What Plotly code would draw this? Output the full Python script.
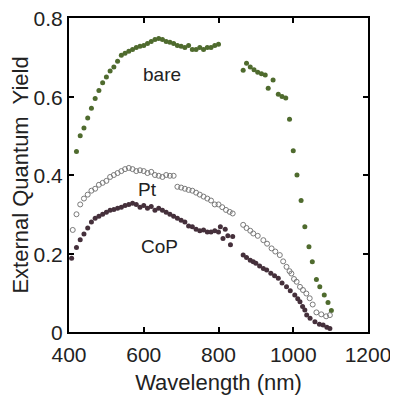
import plotly.graph_objects as go

# ---- data ----
bare_nm = [420, 430, 440, 450, 460, 470, 480, 490, 500, 510, 520, 530, 540, 550, 560, 570,
           580, 590, 600, 610, 620, 630, 640, 650, 660, 670, 680, 690, 700, 710, 720, 730,
           740, 750, 760, 770, 780, 790, 800,
           866, 875, 885, 895, 905, 915, 925, 933, 946, 960, 970, 980, 990,
           1000, 1010, 1021, 1031, 1042, 1051, 1062, 1071, 1083, 1093, 1102]
bare_val = [0.46, 0.50, 0.52, 0.545, 0.57, 0.595, 0.615, 0.635, 0.65, 0.665, 0.675, 0.69, 0.705, 0.71, 0.715, 0.72,
            0.725, 0.728, 0.73, 0.735, 0.74, 0.745, 0.748, 0.745, 0.74, 0.738, 0.735, 0.73, 0.728, 0.725, 0.73, 0.72,
            0.72, 0.725, 0.72, 0.725, 0.725, 0.73, 0.733,
            0.667, 0.685, 0.675, 0.668, 0.662, 0.658, 0.655, 0.621, 0.642, 0.606, 0.60, 0.596, 0.542,
            0.462, 0.40, 0.335, 0.268, 0.217, 0.179, 0.134, 0.115, 0.094, 0.075, 0.055]

pt_nm = [410, 420, 430, 440, 450, 460, 470, 480, 490, 500, 510, 520, 530, 540, 550, 560,
         570, 580, 590, 600, 610, 620, 630, 640, 650, 660, 670, 680,
         690, 700, 710, 720, 730, 740, 750, 760, 770, 780, 790, 800, 810, 820, 830, 838,
         866, 875, 885, 893, 905, 920, 930, 942, 952, 964, 973, 982, 990, 995,
         1002, 1009, 1018, 1026, 1035, 1044, 1052, 1062, 1075, 1088, 1098]
pt_val = [0.26, 0.30, 0.325, 0.34, 0.35, 0.36, 0.365, 0.375, 0.38, 0.385, 0.395, 0.40, 0.405, 0.41, 0.415, 0.418,
          0.415, 0.41, 0.412, 0.41, 0.405, 0.408, 0.40, 0.398, 0.395, 0.40, 0.398, 0.398,
          0.37, 0.368, 0.365, 0.362, 0.36, 0.355, 0.35, 0.345, 0.34, 0.335, 0.325, 0.325, 0.318, 0.311, 0.306, 0.302,
          0.273, 0.265, 0.258, 0.251, 0.245, 0.234, 0.225, 0.213, 0.205, 0.196, 0.18, 0.166, 0.155, 0.149,
          0.135, 0.128, 0.115, 0.107, 0.098, 0.086, 0.07, 0.05, 0.045, 0.04, 0.043]

cop_nm = [407, 420, 430, 440, 450, 460, 470, 480, 490, 500, 510, 520, 530, 540, 550, 560,
          570, 580, 590, 600, 610, 620, 630, 640, 650, 660, 670, 680, 690, 700, 710, 720,
          730, 740, 750, 760, 770, 780, 790, 800,
          805, 812, 818, 825, 832, 838,
          866, 875, 885, 893, 900, 910, 920, 929, 940, 950, 960, 970, 982, 992,
          1004, 1012, 1018, 1025, 1031, 1036, 1045, 1058, 1070, 1080, 1090, 1098]
cop_val = [0.188, 0.215, 0.235, 0.25, 0.265, 0.28, 0.29, 0.295, 0.30, 0.305, 0.31, 0.312, 0.315, 0.318, 0.322, 0.325,
           0.328, 0.325, 0.318, 0.322, 0.315, 0.32, 0.31, 0.315, 0.31, 0.305, 0.30, 0.295, 0.29, 0.285, 0.28, 0.27,
           0.268, 0.262, 0.258, 0.26, 0.255, 0.255, 0.258, 0.255,
           0.268, 0.238, 0.262, 0.245, 0.222, 0.243,
           0.196, 0.19, 0.183, 0.179, 0.175, 0.168, 0.162, 0.158, 0.15, 0.143, 0.137, 0.125, 0.115, 0.105,
           0.094, 0.085, 0.077, 0.065, 0.056, 0.043, 0.035, 0.026, 0.02, 0.018, 0.012, 0.009]

x_ticks = [400, 600, 800, 1000, 1200]
y_ticks = [0, 0.2, 0.4, 0.6, 0.8]
y_tick_text = ["0", "0.2", "0.4", "0.6", "0.8"]

labels = ["bare", "Pt", "CoP"]
label_x = [649, 611, 643]
label_y = [0.657, 0.364, 0.217]

# ---- figure ----
fig = go.Figure()
fig.add_trace(go.Scatter(x=bare_nm, y=bare_val, mode="markers", name="bare",
                         marker=dict(size=5, color="#4f6b2e", line=dict(width=0))))
fig.add_trace(go.Scatter(x=pt_nm, y=pt_val, mode="markers", name="Pt",
                         marker=dict(size=5, symbol="circle-open", color="#7a7a7a", line=dict(width=1))))
fig.add_trace(go.Scatter(x=cop_nm, y=cop_val, mode="markers", name="CoP",
                         marker=dict(size=5, color="#45303b", line=dict(width=0))))

for t, xx, yy in zip(labels, label_x, label_y):
    fig.add_annotation(x=xx, y=yy, text=t, showarrow=False,
                       font=dict(size=19, color="#222222", family="Liberation Sans, Arial"))

# page body has an 8px default margin, so the figure is sized 8px smaller
fig.update_layout(
    width=390, height=387,
    margin=dict(l=61, r=30, t=10, b=63),
    paper_bgcolor="white", plot_bgcolor="white",
    showlegend=False,
    font=dict(family="Liberation Sans, Arial", color="#222222"),
)
fig.update_xaxes(range=[400, 1200], tickvals=x_ticks, ticks="inside", ticklen=5,
                 tickwidth=1.5, tickcolor="black", automargin=False,
                 ticklabelstandoff=3, ticklabeloverflow="allow",
                 showline=True, linecolor="black", linewidth=2, mirror="ticks",
                 showgrid=False, zeroline=False,
                 tickfont=dict(size=21, color="#222222"),
                 title=dict(text="Wavelength (nm)", font=dict(size=22, color="#222222"), standoff=10))
fig.update_yaxes(range=[0, 0.8], tickvals=y_ticks, ticktext=y_tick_text, ticks="inside", ticklen=5,
                 tickwidth=1.5, tickcolor="black", automargin=False,
                 ticklabelshift=1, ticklabeloverflow="allow",
                 showline=True, linecolor="black", linewidth=2, mirror="ticks",
                 showgrid=False, zeroline=False,
                 tickfont=dict(size=21, color="#222222"),
                 title=dict(text="External Quantum\u00a0 Yield", font=dict(size=22, color="#222222"), standoff=1))

fig.write_html("out.html")
